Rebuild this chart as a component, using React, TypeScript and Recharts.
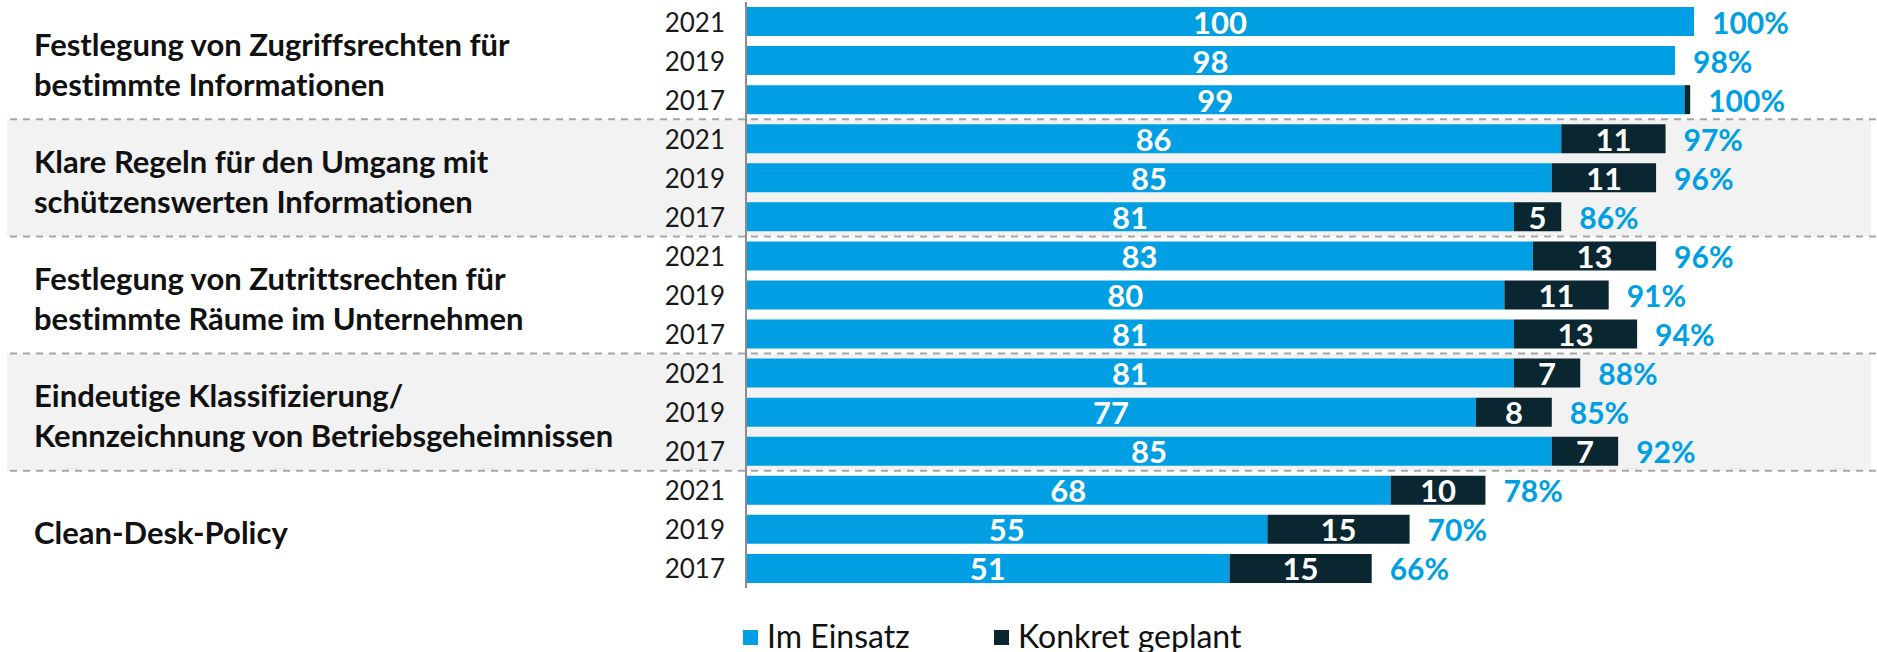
import React from "react";
import { BarChart, Bar, XAxis, YAxis, ReferenceArea, LabelList } from "recharts";

// ── data ──
const GROUPS = [
  "Festlegung von Zugriffsrechten für\nbestimmte Informationen",
  "Klare Regeln für den Umgang mit\nschützenswerten Informationen",
  "Festlegung von Zutrittsrechten für\nbestimmte Räume im Unternehmen",
  "Eindeutige Klassifizierung/\nKennzeichnung von Betriebsgeheimnissen",
  "Clean-Desk-Policy",
];
const YEARS = ["2021", "2019", "2017"];
const IM_EINSATZ = [100, 98, 99, 86, 85, 81, 83, 80, 81, 81, 77, 85, 68, 55, 51];
const KONKRET_GEPLANT = [0, 0, 0.6, 11, 11, 5, 13, 11, 13, 7, 8, 7, 10, 15, 15];
const GESAMT = [100, 98, 100, 97, 96, 86, 96, 91, 94, 88, 85, 92, 78, 70, 66];
const SERIES = ["Im Einsatz", "Konkret geplant"];
const SHADED_GROUPS = [1, 3];

const BLUE = "#009fe3";
const DARK = "#0a2630";
const FONT = "Lato, 'Open Sans', sans-serif";
const NO_LIGA = { fontVariantLigatures: "none" as const };
const W = 1877;
const H = 652;

const rows = IM_EINSATZ.map((v, i) => ({
  key: `g${Math.floor(i / 3)}-${YEARS[i % 3]}`,
  group: Math.floor(i / 3),
  year: YEARS[i % 3],
  einsatz: v,
  geplant: KONKRET_GEPLANT[i],
  total: GESAMT[i],
}));

function RowTick(props: any) {
  const { x, y, payload } = props;
  const row = rows.find((r) => r.key === payload.value);
  if (!row) return null;
  const lines = GROUPS[row.group].split("\n");
  return (
    <g>
      <text
        x={x}
        y={y}
        textAnchor="end"
        dominantBaseline="central"
        fontFamily={FONT}
        fontSize={26}
        fill="#1a1a1a"
      >
        {row.year}
      </text>
      {row.year === "2019" &&
        lines.map((line, i) => (
          <text
            key={i}
            x={34}
            y={y + 3 + (i - (lines.length - 1) / 2) * 40}
            dominantBaseline="central"
            fontFamily={FONT}
            fontSize={31}
            fontWeight={700}
            fill="#111"
            style={NO_LIGA}
          >
            {line}
          </text>
        ))}
    </g>
  );
}

// gray band behind a group, dashed rule on top and bottom
function Band(props: any) {
  const { y, height } = props;
  const dash = { stroke: "#a6a6a6", strokeWidth: 2, strokeDasharray: "7 6" };
  return (
    <g>
      <rect x={7} y={y} width={W - 13} height={height} fill="#f2f2f2" />
      <line x1={10} x2={W} y1={y} y2={y} {...dash} />
      <line x1={10} x2={W} y1={y + height} y2={y + height} {...dash} />
    </g>
  );
}

function InnerLabel(props: any) {
  const { x, y, width, height, value } = props;
  if (!value || value < 2) return null;
  return (
    <text
      x={x + width / 2}
      y={y + height / 2}
      textAnchor="middle"
      dominantBaseline="central"
      fontFamily={FONT}
      fontSize={31}
      fontWeight={700}
      fill="#fff"
    >
      {value}
    </text>
  );
}

// total label sits after the end of the whole stack; the blue bar's
// px-per-unit gives the end of the dark segment too
function TotalLabel(props: any) {
  const { x, y, width, height, index } = props;
  const row = rows[index];
  if (!row) return null;
  const end = x + (width * (row.einsatz + row.geplant)) / row.einsatz;
  return (
    <text
      x={end + 18}
      y={y + height / 2}
      dominantBaseline="central"
      fontFamily={FONT}
      fontSize={30}
      fontWeight={700}
      fill={BLUE}
    >
      {row.total}%
    </text>
  );
}

export default function App() {
  return (
    <div style={{ position: "absolute", left: 0, top: 0, width: W, height: H, background: "#fff" }}>
      <BarChart
        width={W}
        height={H}
        data={rows}
        layout="vertical"
        margin={{ top: 2, right: 183, left: 0, bottom: 64 }}
      >
        <XAxis type="number" domain={[0, 100]} hide />
        <YAxis
          type="category"
          dataKey="key"
          width={746}
          interval={0}
          tickLine={false}
          tickSize={0}
          tickMargin={21}
          axisLine={{ stroke: "#8c8c8c", strokeWidth: 2 }}
          tick={<RowTick />}
        />
        {SHADED_GROUPS.map((g) => (
          <ReferenceArea
            key={g}
            y1={`g${g}-2021`}
            y2={`g${g}-2017`}
            ifOverflow="visible"
            shape={<Band />}
          />
        ))}
        <Bar dataKey="einsatz" stackId="a" fill={BLUE} barSize={29} isAnimationActive={false}>
          <LabelList dataKey="einsatz" content={<InnerLabel />} />
          <LabelList dataKey="total" content={<TotalLabel />} />
        </Bar>
        <Bar dataKey="geplant" stackId="a" fill={DARK} barSize={29} isAnimationActive={false}>
          <LabelList dataKey="geplant" content={<InnerLabel />} />
        </Bar>
      </BarChart>
      {SERIES.map((name, i) => (
        <div
          key={name}
          style={{
            position: "absolute",
            left: i === 0 ? 743 : 994,
            top: 617,
            height: 36,
            display: "flex",
            alignItems: "center",
            fontFamily: FONT,
            fontSize: 32,
            color: "#111",
            whiteSpace: "nowrap",
          }}
        >
          <span
            style={{
              display: "inline-block",
              width: 15,
              height: 15,
              background: i === 0 ? BLUE : DARK,
              marginRight: 9,
              marginTop: 4,
            }}
          />
          {name}
        </div>
      ))}
    </div>
  );
}
